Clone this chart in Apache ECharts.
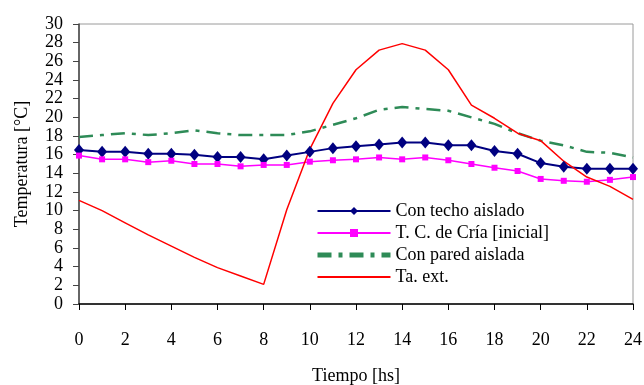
<!DOCTYPE html>
<html>
<head>
<meta charset="utf-8">
<script src="https://cdn.jsdelivr.net/npm/echarts@6/dist/echarts.min.js"></script>
<style>
  html, body { margin: 0; padding: 0; background: #fff; }
  #chart { width: 644px; height: 385px; }
</style>
</head>
<body>
<div id="chart"></div>
<script>
// Hours of the day (x axis)
const hours = [0, 1, 2, 3, 4, 5, 6, 7, 8, 9, 10, 11, 12, 13, 14, 15, 16, 17, 18, 19, 20, 21, 22, 23, 24];

// Temperatures [°C]
const techoAislado = [16.5, 16.3, 16.3, 16.1, 16.1, 16.0, 15.75, 15.75, 15.5, 15.9, 16.3, 16.7, 16.9, 17.1, 17.3, 17.3, 17.0, 17.0, 16.4, 16.1, 15.1, 14.7, 14.5, 14.5, 14.5];
const criaInicial = [15.9, 15.5, 15.5, 15.2, 15.35, 15.0, 15.0, 14.75, 14.9, 14.9, 15.25, 15.4, 15.5, 15.7, 15.5, 15.7, 15.4, 15.0, 14.6, 14.25, 13.4, 13.2, 13.1, 13.3, 13.6];
const paredAislada = [17.9, 18.1, 18.3, 18.1, 18.3, 18.6, 18.3, 18.1, 18.1, 18.1, 18.5, 19.2, 19.9, 20.8, 21.1, 20.9, 20.7, 20.0, 19.3, 18.3, 17.5, 17.0, 16.3, 16.2, 15.7];
const taExt = [11.1, 10.0, 8.7, 7.4, 6.2, 5.0, 3.9, 3.0, 2.1, 10.1, 16.6, 21.5, 25.1, 27.2, 27.9, 27.2, 25.1, 21.3, 19.9, 18.3, 17.5, 15.3, 13.6, 12.6, 11.2];

const seriesNames = ['Con techo aislado', 'T. C. de Cría [inicial]', 'Con pared aislada', 'Ta. ext.'];

const pairs = (vals) => hours.map((h, i) => [h, vals[i]]);

const font = 'Liberation Serif';

const chart = echarts.init(document.getElementById('chart'));

const option = {
  animation: false,
  textStyle: { fontFamily: font },
  grid: {
    left: 79,
    right: 11,
    top: 24,
    bottom: 81,
    outerBoundsMode: 'none',
    containLabel: false,
    show: true,
    borderColor: '#9a9a9a',
    borderWidth: 1
  },
  legend: {
    orient: 'vertical',
    left: 315,
    top: 201,
    padding: 0,
    itemWidth: 73,
    itemHeight: 10,
    itemGap: 2,
    textStyle: { fontFamily: font, fontSize: 18, color: '#000', lineHeight: 20 },
    data: [
      { name: seriesNames[0] },
      { name: seriesNames[1] },
      { name: seriesNames[2], lineStyle: { width: 5 }, itemStyle: { opacity: 0 } },
      { name: seriesNames[3], itemStyle: { opacity: 0 } }
    ]
  },
  xAxis: {
    type: 'value',
    min: 0,
    max: 24,
    interval: 2,
    name: 'Tiempo [hs]',
    nameLocation: 'middle',
    nameGap: 63,
    nameTextStyle: { fontFamily: font, fontSize: 18, color: '#000' },
    axisLine: { show: true, lineStyle: { color: '#000', width: 1.5 } },
    axisTick: { show: true, length: 6, lineStyle: { color: '#000' } },
    axisLabel: { fontFamily: font, fontSize: 18, color: '#000', margin: 27, showMinLabel: true, showMaxLabel: true },
    splitLine: { show: false }
  },
  yAxis: {
    type: 'value',
    min: 0,
    max: 30,
    interval: 2,
    name: 'Temperatura [°C]',
    nameLocation: 'middle',
    nameGap: 48,
    nameTextStyle: { fontFamily: font, fontSize: 18, color: '#000' },
    axisLine: { show: true, lineStyle: { color: '#444', width: 1.5 } },
    axisTick: { show: true, length: 6, lineStyle: { color: '#444' } },
    axisLabel: { fontFamily: font, fontSize: 18, color: '#000', margin: 16, showMinLabel: true, showMaxLabel: true },
    splitLine: { show: false }
  },
  series: [
    {
      name: seriesNames[0],
      type: 'line',
      data: pairs(techoAislado),
      symbol: 'diamond',
      symbolSize: [10, 12],
      lineStyle: { color: '#000080', width: 2 },
      itemStyle: { color: '#000080' }
    },
    {
      name: seriesNames[1],
      type: 'line',
      data: pairs(criaInicial),
      symbol: 'rect',
      symbolSize: 6,
      lineStyle: { color: '#ff00ff', width: 1.5 },
      itemStyle: { color: '#ff00ff' }
    },
    {
      name: seriesNames[2],
      type: 'line',
      data: pairs(paredAislada),
      symbol: 'none',
      lineStyle: { color: '#2e8b57', width: 2.5, type: [14, 7, 4, 7] },
      itemStyle: { color: '#2e8b57' }
    },
    {
      name: seriesNames[3],
      type: 'line',
      data: pairs(taExt),
      symbol: 'none',
      lineStyle: { color: '#ff0000', width: 1.5 },
      itemStyle: { color: '#ff0000' }
    }
  ]
};

chart.setOption(option);
</script>
</body>
</html>
